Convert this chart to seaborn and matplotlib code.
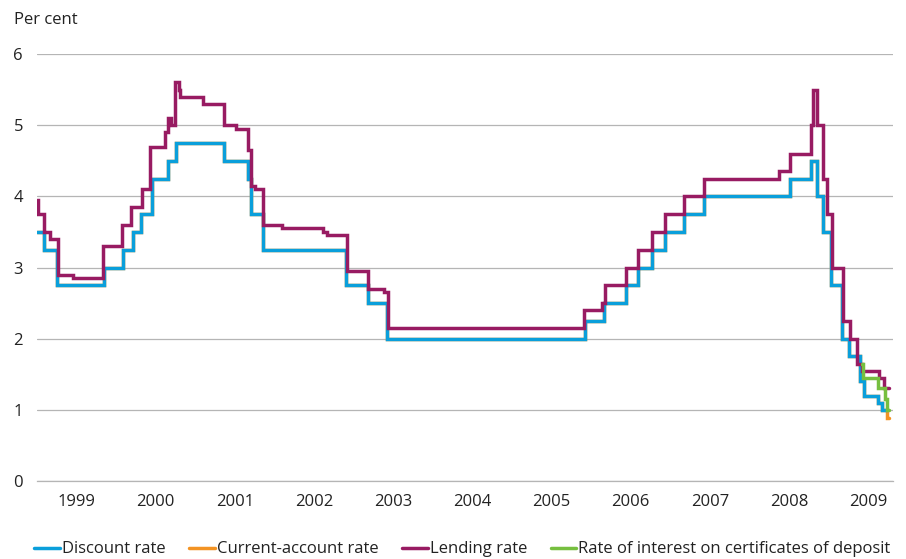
import pandas as pd
import numpy as np
import matplotlib.pyplot as plt
import seaborn as sns

# Danish official interest rates, step changes (decimal year, per cent)
lending_dates = [1999.00, 1999.01, 1999.09, 1999.16, 1999.27, 1999.46, 1999.83,
                 2000.08, 2000.19, 2000.33, 2000.43, 2000.62, 2000.66, 2000.69,
                 2000.74, 2000.79, 2000.81, 2001.10, 2001.36, 2001.52, 2001.66,
                 2001.70, 2001.75, 2001.85, 2002.09, 2002.61, 2002.66, 2002.92,
                 2003.18, 2003.39, 2003.43, 2005.91, 2006.14, 2006.17, 2006.44,
                 2006.59, 2006.77, 2006.93, 2007.18, 2007.43, 2008.37, 2008.51,
                 2008.78, 2008.81, 2008.85, 2008.93, 2008.98, 2009.05, 2009.18,
                 2009.27, 2009.36, 2009.42, 2009.64, 2009.70, 2009.765]
lending_rate = [3.95, 3.75, 3.5, 3.4, 2.9, 2.85, 3.3,
                3.6, 3.85, 4.1, 4.7, 4.9, 5.1, 5.0,
                5.6, 5.5, 5.4, 5.3, 5.0, 4.95, 4.65,
                4.15, 4.1, 3.6, 3.55, 3.5, 3.45, 2.95,
                2.7, 2.65, 2.15, 2.4, 2.5, 2.75, 3.0,
                3.25, 3.5, 3.75, 4.0, 4.25, 4.35, 4.6,
                5.0, 5.5, 5.0, 4.25, 3.75, 3.0, 2.25,
                2.0, 1.65, 1.55, 1.45, 1.3, 1.3]

discount_dates = [1999.00, 1999.09, 1999.25, 1999.85, 2000.09, 2000.21, 2000.32,
                  2000.45, 2000.66, 2000.76, 2001.36, 2001.66, 2001.71, 2001.85,
                  2002.91, 2003.18, 2003.42, 2005.92, 2006.16, 2006.44, 2006.59,
                  2006.77, 2006.94, 2007.18, 2007.43, 2008.51, 2008.78, 2008.85,
                  2008.93, 2009.03, 2009.17, 2009.26, 2009.40, 2009.45, 2009.62,
                  2009.68, 2009.74]
discount_rate = [3.5, 3.25, 2.75, 3.0, 3.25, 3.5, 3.75,
                 4.25, 4.5, 4.75, 4.5, 4.25, 3.75, 3.25,
                 2.75, 2.5, 2.0, 2.25, 2.5, 2.75, 3.0,
                 3.25, 3.5, 3.75, 4.0, 4.25, 4.5, 4.0,
                 3.5, 2.75, 2.0, 1.75, 1.4, 1.2, 1.1,
                 1.0, 1.0]

current_dates = discount_dates[:-1] + [2009.745, 2009.76]
current_rate = discount_rate[:-1] + [0.88, 0.88]

cd_dates = [2009.42, 2009.43, 2009.62, 2009.71, 2009.745, 2009.76]
cd_rate = [1.65, 1.45, 1.3, 1.15, 1.0, 1.0]

series = [
    ('Discount rate', discount_dates, discount_rate, '#0a9fdb'),
    ('Current-account rate', current_dates, current_rate, '#f39323'),
    ('Lending rate', lending_dates, lending_rate, '#981b62'),
    ('Rate of interest on certificates of deposit', cd_dates, cd_rate, '#76bf3f'),
]

sns.set_theme(style='white')
plt.rcParams['font.family'] = ['Open Sans', 'DejaVu Sans']

fig = plt.figure(figsize=(9.06, 5.59), dpi=100)
ax = fig.add_axes([37 / 906, 1 - 481 / 559, (893 - 37) / 906, (481 - 54) / 559])

# orange drawn first so the discount rate sits on top where they are equal
draw_order = [1, 0, 2, 3]
for z, i in enumerate(draw_order):
    name, xs, ys, col = series[i]
    df = pd.DataFrame({'year': xs, 'rate': ys})
    sns.lineplot(data=df, x='year', y='rate', ax=ax, color=col, linewidth=2.5,
                 drawstyle='steps-post', label=name, sort=False,
                 solid_joinstyle='miter', zorder=3 + z)

ax.set_xlim(1999.0, 2009.815)
ax.set_ylim(0, 6)
ax.set_yticks(range(0, 7))
ax.yaxis.grid(True, color='#b5b5b5', linewidth=0.9)
ax.xaxis.grid(False)
for s in ['top', 'right', 'left']:
    ax.spines[s].set_visible(False)
ax.spines['bottom'].set_color('#b5b5b5')
ax.spines['bottom'].set_linewidth(0.9)

years = list(range(1999, 2010))
ax.set_xticks([y for y in years])
ax.set_xticklabels([])
ax.set_xticks([y + 0.5 for y in years], minor=True)
ax.set_xticklabels([str(y) for y in years], minor=True)
ax.tick_params(axis='x', which='major', direction='in', length=5, color='#b5b5b5', width=0.9)
ax.tick_params(axis='x', which='minor', length=0, pad=9, labelsize=12, labelcolor='#222222')
ax.tick_params(axis='y', length=0, pad=10, labelsize=12, labelcolor='#222222')
ax.set_xlabel('')
ax.set_ylabel('')

handles, labels = ax.get_legend_handles_labels()
order = [labels.index(s[0]) for s in series]
ax.get_legend().remove()
fig.legend([handles[k] for k in order], [labels[k] for k in order],
           loc='lower left', bbox_to_anchor=(19 / 906, -0.024), ncol=4, frameon=False,
           fontsize=12, handlelength=1.55, handletextpad=0.12, columnspacing=1.41,
           labelcolor='#222222')

fig.text(14 / 906, 1 - 24 / 559, 'Per cent', fontsize=12, color='#222222', va='baseline')

fig.savefig('out.png', dpi=100)
